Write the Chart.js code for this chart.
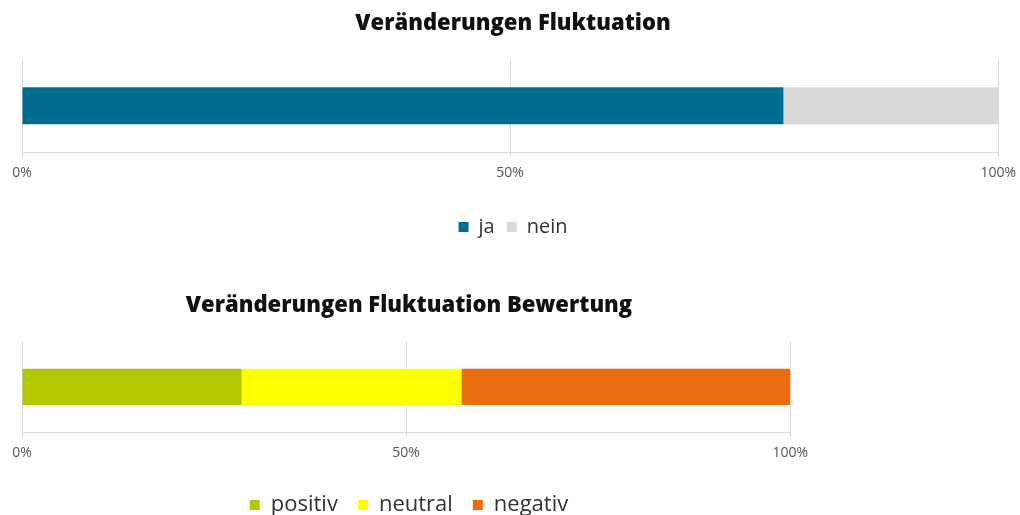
<!DOCTYPE html>
<html>
<head>
<meta charset="utf-8">
<script src="https://cdn.jsdelivr.net/npm/chart.js@4.4.1/dist/chart.umd.min.js"></script>
<style>
  body { margin: 0; background: #fff; width: 1020px; height: 515px; overflow: hidden; position: relative; }
  .box { position: absolute; left: 0; }
  #top { top: 0; width: 1023px; height: 247px; }
  #bottom { top: 282px; width: 815px; height: 244px; }
</style>
</head>
<body>
<div class="box" id="top"><canvas id="chart1"></canvas></div>
<div class="box" id="bottom"><canvas id="chart2"></canvas></div>
<script>
const title1 = 'Veränderungen Fluktuation'
const labels1 = ['ja', 'nein']
const values1 = [78, 22]
const colors1 = ['#006d91', '#d9d9d9']

const title2 = 'Veränderungen Fluktuation Bewertung'
const labels2 = ['positiv', 'neutral', 'negativ']
const values2 = [28.6, 28.6, 42.8]
const colors2 = ['#b4c800', '#ffff00', '#ea6c0e']

const ticks = ['0%', '50%', '100%']
const FONT = "'Open Sans', 'Noto Sans', sans-serif"

function makeChart(id, title, labels, values, colors, extra, legendSize, legendGap) {
  const ctx = document.getElementById(id).getContext('2d')
  return new Chart(ctx, {
    type: 'bar',
    data: {
      labels: [''],
      datasets: labels.map((label, i) => ({
        label: label,
        data: [values[i]],
        backgroundColor: colors[i],
        borderWidth: 0,
        barPercentage: 0.4,
        categoryPercentage: 1,
      })),
    },
    options: {
      indexAxis: 'y',
      responsive: true,
      maintainAspectRatio: false,
      animation: false,
      layout: { padding: { left: 22, right: 19, top: 0, bottom: 0 } },
      scales: {
        x: {
          stacked: true,
          min: 0,
          max: 100,
          ticks: {
            stepSize: 50,
            padding: 7,
            color: '#555',
            font: { family: FONT, size: 14 },
            callback: (v) => ticks[v / 50],
          },
          grid: { color: '#d9d9d9', tickLength: 5 },
          border: { color: '#d9d9d9' },
          afterFit: (scale) => {
            scale.height += extra
          },
        },
        y: {
          stacked: true,
          display: false,
        },
      },
      plugins: {
        title: {
          display: true,
          text: title,
          color: '#111',
          font: { family: FONT, size: 22, weight: 800 },
          padding: { top: 11, bottom: 22 },
        },
        legend: {
          position: 'bottom',
          labels: {
            boxWidth: 10,
            boxHeight: 10,
            color: '#333',
            padding: legendGap,
            font: { family: FONT, size: legendSize },
          },
        },
        tooltip: { enabled: false },
      },
    },
  })
}

makeChart('chart1', title1, labels1, values1, colors1, 17, 20, 12)
makeChart('chart2', title2, labels2, values2, colors2, 6, 22, 20)
</script>
</body>
</html>
